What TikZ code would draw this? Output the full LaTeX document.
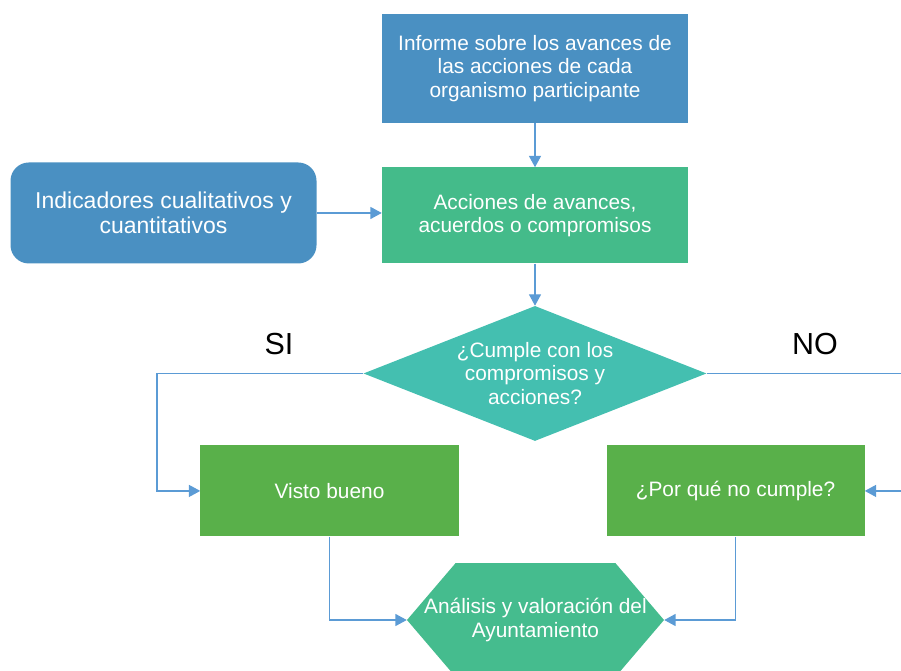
\documentclass[tikz,border=0pt]{standalone}
\usepackage{fontspec}
\setmainfont{Liberation Sans}
\usetikzlibrary{arrows.meta,positioning,shapes.geometric}
\definecolor{boxblue}{HTML}{4A90C2}
\definecolor{stepgreen}{HTML}{44BB8A}
\definecolor{askteal}{HTML}{44BFB0}
\definecolor{okgreen}{HTML}{59B04A}
\definecolor{hexgreen}{HTML}{45BC8E}
\definecolor{linkblue}{HTML}{5B9BD5}
\tikzset{
  flowbox/.style={align=center, text=white, inner sep=2pt,
    font=\fontsize{17.8}{19.8}\selectfont},
  infobox/.style={flowbox, fill=boxblue, minimum width=9.18cm, minimum height=3.27cm},
  indbox/.style={flowbox, fill=boxblue, rounded corners=0.55cm, minimum width=9.18cm,
    minimum height=3.03cm, font=\fontsize{19.6}{21.8}\selectfont},
  actbox/.style={flowbox, fill=stepgreen, minimum width=9.18cm, minimum height=2.88cm},
  askbox/.style={flowbox, diamond, fill=askteal, aspect=2.54, inner sep=0pt,
    minimum width=10.29cm, minimum height=4.05cm},
  okbox/.style={flowbox, fill=okgreen, minimum width=7.74cm, minimum height=2.73cm},
  hexbox/.style={flowbox, inner sep=0pt, minimum width=7.71cm, minimum height=3.42cm,
    path picture={\fill[hexgreen] (path picture bounding box.west)
      -- ([xshift=1.46cm]path picture bounding box.north west)
      -- ([xshift=-1.46cm]path picture bounding box.north east)
      -- (path picture bounding box.east)
      -- ([xshift=-1.46cm]path picture bounding box.south east)
      -- ([xshift=1.46cm]path picture bounding box.south west) -- cycle;}},
  answer/.style={font=\fontsize{26}{28}\selectfont},
  flowarrow/.style={-{Triangle[length=3.4mm, width=3.6mm]}, draw=linkblue, line width=1pt}
}

\begin{document}
\begin{tikzpicture}[x=0.03cm, y=-0.03cm]
  \useasboundingbox (0,0) rectangle (901,670);
  \clip (0,0) rectangle (901,670);
  \node[infobox] (informe) at (535,68.5) {Informe sobre los avances de\\las acciones de cada\\organismo participante};
  \node[actbox, below=1.32cm of informe] (acciones) {Acciones de avances,\\acuerdos o compromisos};
  \node[indbox, left=1.95cm of acciones, yshift=0.075cm] (indicadores) {Indicadores cualitativos y\\cuantitativos};
  \node[askbox, below=1.26cm of acciones] (cumple) {¿Cumple con los\\compromisos y\\acciones?};
  \node[okbox, below=0.12cm of cumple, xshift=-6.165cm] (visto) {Visto bueno};
  \node[okbox, below=0.12cm of cumple, xshift=6.015cm] (porque) {¿Por qué no cumple?};
  \node[hexbox] (analisis) at (535.5,620) {Análisis y valoración del\\Ayuntamiento};
  \node[answer] (si) at (279,344) {SI};
  \node[answer] (no) at (815,344) {NO};
  \coordinate (siturn) at (157,0 |- cumple.west);
  \coordinate (noturn) at (915,0 |- cumple.east);

  \draw[flowarrow] (informe) -- (acciones);
  \draw[flowarrow] (indicadores.east) -- (indicadores.east -| acciones.west);
  \draw[flowarrow] (acciones) -- (cumple);
  \draw[flowarrow] (cumple.west) -- (siturn) |- (visto.west);
  \draw[flowarrow] (cumple.east) -- (noturn) |- (porque.east);
  \draw[flowarrow] (visto.south) |- (analisis.west);
  \draw[flowarrow] (porque.south) |- (analisis.east);
\end{tikzpicture}
\end{document}
